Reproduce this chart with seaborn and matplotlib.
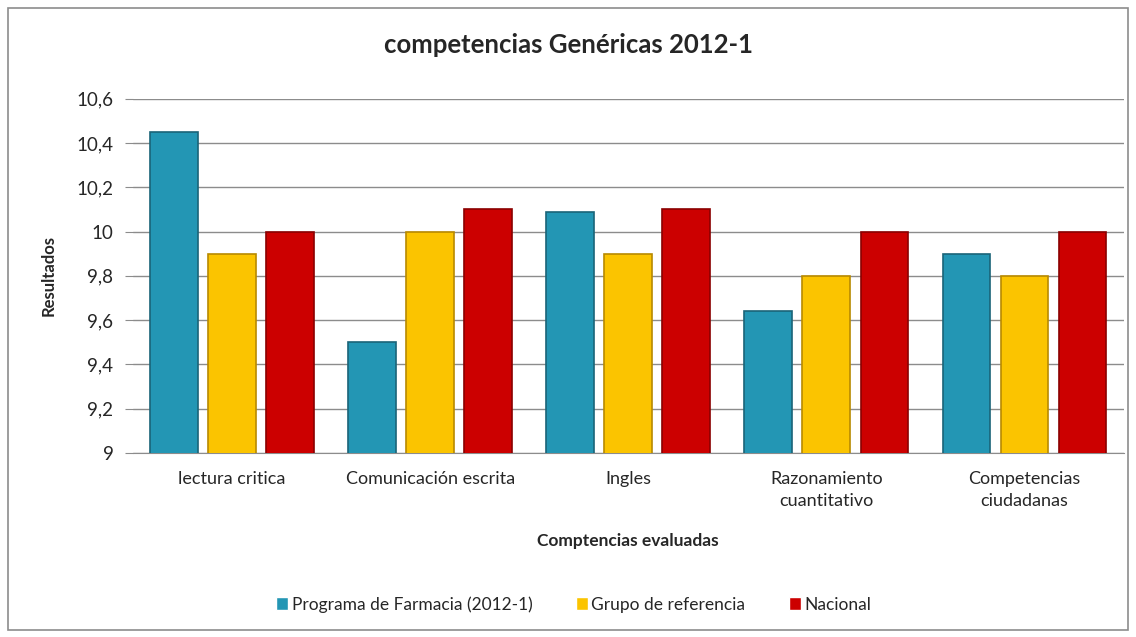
import pandas as pd
import matplotlib
matplotlib.use('Agg')
import matplotlib.pyplot as plt
import seaborn as sns
from matplotlib.patches import Rectangle
from matplotlib.ticker import FuncFormatter

categories = ['lectura critica', 'Comunicación escrita', 'Ingles',
              'Razonamiento\ncuantitativo', 'Competencias\nciudadanas']
series = ['Programa de Farmacia (2012-1)', 'Grupo de referencia', 'Nacional']
programa = [10.45, 9.50, 10.09, 9.64, 9.90]
grupo = [9.90, 10.00, 9.90, 9.80, 9.80]
nacional = [10.00, 10.10, 10.10, 10.00, 10.00]
colors = ['#2396b4', '#fbc400', '#cc0000']
edges = ['#1a6478', '#b88a00', '#8a0000']

df = pd.DataFrame({
    'Competencia': categories * 3,
    'Serie': [series[0]] * 5 + [series[1]] * 5 + [series[2]] * 5,
    'Valor': programa + grupo + nacional,
})

sns.set_style('white')
plt.rcParams['font.family'] = ['Lato', 'DejaVu Sans']

fig = plt.figure(figsize=(11.36, 6.37), dpi=100)
ax = fig.add_axes([0.117, 0.289, 0.872, 0.556])

sns.barplot(data=df, x='Competencia', y='Valor', hue='Serie', palette=colors,
            saturation=1, width=0.88, gap=0.18, ax=ax, zorder=3)

# darker rim on each bar
for i, cont in enumerate(ax.containers):
    for bar in cont:
        bar.set_edgecolor(edges[i])
        bar.set_linewidth(1.2)

ax.set_ylim(9, 10.6)
ax.set_yticks([9, 9.2, 9.4, 9.6, 9.8, 10, 10.2, 10.4, 10.6])
ax.yaxis.set_major_formatter(FuncFormatter(lambda v, p: f'{v:g}'.replace('.', ',')))
ax.grid(axis='y', color='#8c8c8c', linewidth=1.0, zorder=0)
ax.set_axisbelow(True)
for s in ['top', 'right', 'left']:
    ax.spines[s].set_visible(False)
ax.spines['bottom'].set_color('#8c8c8c')
ax.tick_params(axis='y', length=6, color='#8c8c8c', labelsize=13.5, pad=8, left=True)
ax.tick_params(axis='x', length=0, labelsize=13, pad=13)
for lab in ax.get_xticklabels():
    lab.set_linespacing(1.5)

ax.set_xlabel('Comptencias evaluadas', fontsize=12.5, fontweight='bold', va='center')
ax.xaxis.set_label_coords(0.5, -0.249)
ax.set_ylabel('Resultados', fontsize=12, fontweight='bold', labelpad=14)
fig.suptitle('competencias Genéricas 2012-1', fontsize=18.5, fontweight='bold', y=0.948)

ax.legend(loc='upper center', bbox_to_anchor=(0.445, -0.36), ncol=3, frameon=False,
          fontsize=12.5, handlelength=0.7, handleheight=0.7, handletextpad=0.2,
          columnspacing=2.5, title=None)

fig.patches.append(Rectangle((0.007, 0.011), 0.986, 0.977, transform=fig.transFigure,
                             fill=False, edgecolor='#8c8c8c', linewidth=1.2))

fig.savefig('out.png', dpi=100)
